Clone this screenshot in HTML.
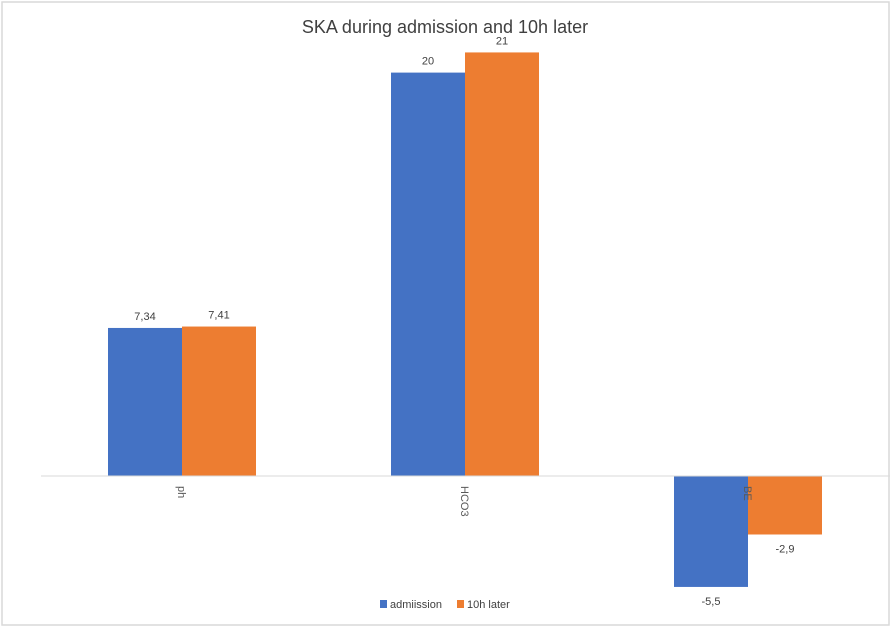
<!DOCTYPE html>
<html><head><meta charset="utf-8"><style>
body{margin:0;background:#fff;}
svg{display:block;font-family:"Liberation Sans",sans-serif;}
</style></head><body>
<svg id="chart" width="893" height="629">
<rect x="2" y="2" width="887" height="623" fill="#fff" stroke="#d9d9d9" stroke-width="1.5"/>
<text x="445" y="33" text-anchor="middle" font-size="18" fill="#404040">SKA during admission and 10h later</text>
<g id="bars"></g>
<line x1="41" y1="476" x2="890" y2="476" stroke="#d9d9d9" stroke-width="1"/>
<g id="labels"></g>
<g>
<rect x="380" y="600" width="7" height="8" fill="#4472c4"/>
<text x="390" y="608" font-size="11" fill="#404040">admiission</text>
<rect x="457" y="600" width="7" height="8" fill="#ed7d31"/>
<text x="467" y="608" font-size="11" fill="#404040">10h later</text>
</g>
</svg>
<script>
const categories = ["ph", "HCO3", "BE"];
const admission = [7.34, 20, -5.5];
const later10h = [7.41, 21, -2.9];
const valueLabelsAdmission = ["7,34", "20", "-5,5"];
const valueLabelsLater = ["7,41", "21", "-2,9"];

const NS = "http://www.w3.org/2000/svg";
const baseY = 476, unit = 20.17;
const yScale = v => baseY - v * unit;
const catCenter = i => 182 + i * 283;
const barW = 74;
const bars = document.getElementById('bars');
const labels = document.getElementById('labels');
function mk(tag, attrs){const e=document.createElementNS(NS,tag);for(const k in attrs)e.setAttribute(k,attrs[k]);return e;}
const series = [[admission, "#4472c4", valueLabelsAdmission, -1, "admission"], [later10h, "#ed7d31", valueLabelsLater, 0, "10h-later"]];
categories.forEach((c, i) => {
  series.forEach(([vals, col, lbls, off, nm]) => {
    const v = vals[i];
    const x = catCenter(i) + off * barW;
    const y0 = yScale(Math.max(v, 0)), y1 = yScale(Math.min(v, 0));
    const r = mk('rect', {x: x, y: y0, width: barW, height: y1 - y0, fill: col});
    
    
    bars.appendChild(r);
    const ty = v >= 0 ? y0 - 8 : y1 + 18;
    const t = mk('text', {x: x + barW / 2, y: ty, 'text-anchor': 'middle', 'font-size': 11, fill: '#404040'});
    t.textContent = lbls[i];
    
    
    labels.appendChild(t);
  });
  const cx = catCenter(i);
  const t = mk('text', {x: cx - 4, y: baseY + 10, 'font-size': 11, fill: '#595959', transform: 'rotate(90 ' + (cx - 4) + ' ' + (baseY + 10) + ')'});
  t.textContent = c;
  
  
  labels.appendChild(t);
});
</script>
</body></html>
